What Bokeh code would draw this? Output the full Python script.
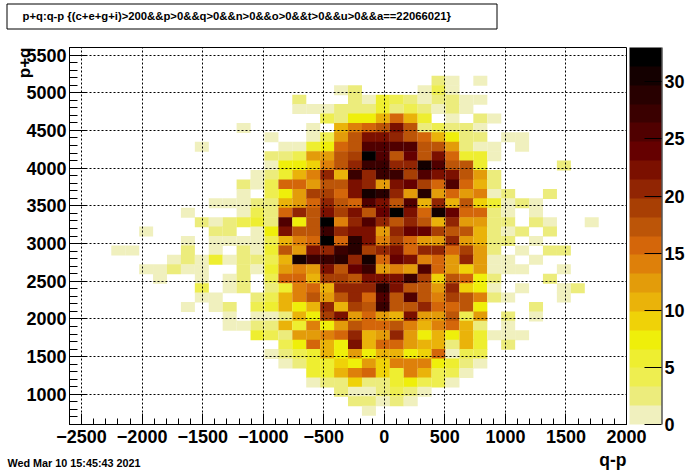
from bokeh.plotting import figure
from bokeh.embed import file_html
from bokeh.resources import INLINE
from bokeh.core.properties import value
from bokeh.models import (ColumnDataSource, LinearColorMapper, ColorBar, FixedTicker,
                          SingleIntervalTicker)
from bokeh.transform import transform

TITLE = "p+q:q-p {(c+e+g+i)>200&&p>0&&q>0&&n>0&&o>0&&t>0&&u>0&&a==22066021}"
DATE = "Wed Mar 10 15:45:43 2021"
X_TITLE = "q-p"
Y_TITLE = "p+q"

X_LOW, X_HIGH, X_BINS = -2600, 2000, 40
Y_LOW, Y_HIGH, Y_BINS = 600, 5600, 40
Z_MAX = 33
Z_TICKS = [0, 5, 10, 15, 20, 25, 30]
X_TICKS = [-2500, -2000, -1500, -1000, -500, 0, 500, 1000, 1500, 2000]
Y_TICKS = [1000, 1500, 2000, 2500, 3000, 3500, 4000, 4500, 5000, 5500]

PALETTE = ["#F0F0BE", "#ECEC7C", "#EEEE50", "#EEEE30", "#EFEF0A", "#EFD208", "#EAB30A",
           "#E39C0A", "#DE800A", "#D4660A", "#BC5508", "#A83F04", "#912503", "#7B1000",
           "#650000", "#500000", "#3A0000", "#280000", "#140000", "#000000"]

# row index counted from the top of the frame -> first x bin, then counts along x
ROWS = {
    3: (26, [2, 1, 0, 1]),
    4: (19, [1, 2, 0, 0, 0, 0, 1, 4, 1]),
    5: (16, [2, 0, 0, 0, 2, 1, 5, 4, 2, 1, 2, 2, 1, 1]),
    6: (16, [1, 1, 1, 2, 2, 2, 5, 2, 4, 2, 1, 2, 1]),
    7: (18, [4, 2, 7, 7, 10, 15, 10, 5, 0, 1, 0, 2, 1]),
    8: (12, [1, 0, 0, 0, 0, 1, 0, 10, 14, 15, 17, 22, 17, 2, 4, 2, 2, 1]),
    9: (14, [1, 0, 0, 1, 4, 12, 17, 22, 22, 20, 17, 15, 10, 7, 2, 2, 0, 1, 1]),
    10: (9, [1, 0, 0, 0, 0, 0, 1, 1, 5, 7, 15, 17, 25, 25, 25, 25, 17, 17, 12, 2, 1, 1, 0, 1]),
    11: (14, [2, 2, 4, 12, 12, 17, 19, 32, 25, 17, 24, 17, 22, 15, 5, 5, 1]),
    12: (14, [1, 7, 7, 9, 14, 17, 20, 27, 27, 20, 20, 30, 25, 17, 17, 5, 0, 0, 0, 0, 0, 2]),
    13: (13, [1, 2, 5, 10, 14, 20, 10, 27, 20, 27, 27, 19, 25, 22, 22, 17, 12, 2]),
    14: (12, [2, 1, 4, 15, 15, 12, 17, 17, 22, 20, 12, 22, 24, 19, 15, 25, 15, 10, 2]),
    15: (12, [1, 0, 4, 7, 12, 19, 19, 15, 22, 30, 29, 20, 12, 29, 12, 15, 12, 14, 1, 2, 0, 0, 2]),
    16: (10, [1, 1, 1, 2, 2, 10, 12, 15, 20, 17, 15, 25, 22, 17, 25, 10, 20, 10, 17, 9, 5, 1, 2, 1]),
    17: (8, [1, 0, 0, 0, 1, 4, 2, 15, 20, 17, 22, 19, 22, 17, 24, 32, 22, 15, 30, 24, 15, 15, 2, 1, 0, 1]),
    18: (9, [2, 1, 2, 4, 5, 2, 25, 7, 17, 32, 14, 20, 25, 20, 17, 20, 17, 10, 20, 12, 12, 2, 2, 0, 2, 1, 0, 0, 1]),
    19: (5, [1, 0, 0, 0, 0, 2, 2, 0, 1, 7, 22, 17, 17, 27, 20, 22, 22, 12, 20, 24, 24, 19, 17, 17, 10, 2, 1, 2, 0, 2]),
    20: (8, [1, 0, 1, 1, 1, 1, 4, 10, 14, 15, 32, 15, 29, 22, 14, 19, 15, 12, 12, 20, 12, 10, 2, 2, 0, 1]),
    21: (3, [1, 1, 0, 0, 0, 2, 0, 1, 0, 2, 1, 5, 17, 12, 22, 20, 27, 29, 19, 20, 22, 15, 20, 20, 15, 19, 12, 2, 0, 1, 0, 2, 2]),
    22: (7, [1, 2, 1, 5, 1, 2, 2, 4, 10, 30, 27, 27, 29, 20, 30, 15, 24, 22, 14, 15, 12, 20, 12, 1, 1, 0, 1]),
    23: (5, [1, 1, 2, 1, 1, 0, 0, 2, 1, 5, 12, 14, 12, 22, 17, 24, 27, 12, 14, 12, 25, 15, 12, 9, 12, 1, 1, 1, 0, 0, 1]),
    24: (6, [1, 0, 0, 1, 0, 1, 2, 0, 4, 15, 15, 10, 19, 19, 17, 22, 22, 22, 27, 19, 9, 17, 15, 7, 2, 0, 0, 0, 2]),
    25: (9, [4, 0, 1, 2, 0, 2, 5, 14, 15, 10, 20, 20, 20, 29, 22, 17, 17, 12, 20, 9, 7, 1, 0, 1, 0, 0, 1, 2]),
    26: (9, [1, 1, 0, 0, 2, 4, 10, 14, 17, 12, 17, 20, 15, 25, 17, 25, 17, 14, 19, 17, 14, 2, 1, 0, 0, 0, 1]),
    27: (8, [1, 0, 1, 2, 0, 4, 5, 10, 7, 10, 20, 10, 19, 17, 27, 17, 17, 20, 15, 15, 17, 7, 0, 0, 0, 2]),
    28: (11, [1, 0, 1, 1, 2, 10, 7, 19, 22, 12, 15, 12, 10, 22, 12, 12, 17, 4, 12, 0, 2, 0, 1]),
    29: (11, [1, 1, 2, 2, 10, 5, 14, 7, 12, 17, 15, 15, 17, 14, 10, 14, 15, 10, 2, 0, 1]),
    30: (13, [5, 4, 2, 12, 12, 14, 15, 20, 10, 12, 20, 12, 7, 10, 7, 10, 5, 1, 1, 1]),
    31: (15, [4, 7, 15, 10, 7, 22, 10, 15, 15, 12, 10, 10, 2, 10, 5, 0, 2]),
    32: (14, [1, 2, 4, 5, 10, 7, 12, 7, 10, 10, 7, 9, 15, 1, 4, 4]),
    33: (15, [1, 2, 5, 5, 9, 7, 12, 9, 14, 14, 14, 7, 5, 2, 1]),
    34: (17, [5, 5, 10, 14, 15, 9, 5, 14, 10, 4, 4, 1]),
    35: (17, [1, 2, 2, 9, 2, 2, 5, 7, 4, 4, 1]),
    36: (19, [2, 1, 1, 2, 4, 2, 1]),
    37: (20, [2, 2, 1, 2, 1]),
    38: (21, [1]),
}

dx = (X_HIGH - X_LOW) / X_BINS
dy = (Y_HIGH - Y_LOW) / Y_BINS
xs, ys, zs = [], [], []
for row, (first, counts) in ROWS.items():
    for k, c in enumerate(counts):
        if c > 0:
            xs.append(X_LOW + dx * (first + k + 0.5))
            ys.append(Y_HIGH - dy * (row + 0.5))
            zs.append(c)
source = ColumnDataSource(dict(x=xs, y=ys, z=zs))

FONT = "Liberation Sans"
mapper = LinearColorMapper(palette=PALETTE, low=0, high=Z_MAX)

FL, FT, FW, FH = 69, 47, 557, 377

p = figure(width=696, height=472, output_backend="svg", toolbar_location=None,
           x_range=(X_LOW, X_HIGH), y_range=(Y_LOW, Y_HIGH),
           min_border_left=FL, min_border_top=FT, min_border_bottom=48, min_border_right=70,
           frame_width=FW, frame_height=FH, background_fill_color="white",
           border_fill_color="white")
p.styles = {"position": "absolute", "left": "0px", "top": "0px"}
p.outline_line_color = "black"
p.outline_line_width = 1

p.rect("x", "y", width=dx, height=dy, source=source, dilate=True,
       fill_color=transform("z", mapper), line_color=None)

for ax, ticks in ((p.xaxis[0], X_TICKS), (p.yaxis[0], Y_TICKS)):
    ax.ticker = SingleIntervalTicker(interval=500, num_minor_ticks=5)
    ax.major_label_overrides = {t: str(t).replace("-", "\u2212") for t in ticks}
    ax.major_label_text_font = FONT
    ax.major_label_text_font_style = "bold"
    ax.major_label_text_font_size = "18px"
    ax.major_label_text_color = "black"
    ax.axis_line_color = "black"
    ax.major_tick_line_color = "black"
    ax.minor_tick_line_color = "black"
    ax.major_tick_out = 0
    ax.minor_tick_out = 0
p.xaxis[0].major_tick_in = 11
p.xaxis[0].minor_tick_in = 6
p.yaxis[0].major_tick_in = 17
p.yaxis[0].minor_tick_in = 8
p.xaxis[0].major_label_standoff = 5
p.yaxis[0].major_label_standoff = 3

for g, ticks in ((p.xgrid[0], X_TICKS), (p.ygrid[0], Y_TICKS)):
    g.ticker = FixedTicker(ticks=ticks)
    g.grid_line_color = "black"
    g.grid_line_dash = "2 2"
    g.grid_line_width = 1
    g.level = "guide"

cb = ColorBar(color_mapper=mapper, width=32, height=FH, padding=0, margin=0,
              location=(3, 0), ticker=FixedTicker(ticks=Z_TICKS),
              major_tick_in=17, major_tick_out=0, major_tick_line_color="black",
              minor_tick_line_color=None, bar_line_color=None, border_line_color=None,
              background_fill_color=None, label_standoff=3,
              major_label_text_font=FONT, major_label_text_font_style="bold",
              major_label_text_font_size="18px", major_label_text_color="black")
p.add_layout(cb, "right")

# Overlay in page pixels for the ROOT title box, stamp and axis titles
ov = figure(width=696, height=472, output_backend="svg", toolbar_location=None,
            x_range=(0, 696), y_range=(472, 0), min_border=0, x_axis_type=None, y_axis_type=None,
            background_fill_color=None, border_fill_color=None, outline_line_color=None)
ov.styles = {"position": "absolute", "left": "0px", "top": "0px"}
ov.grid.visible = False
ov.quad(left=[6.5], right=[496.5], top=[3.5], bottom=[28.5], fill_color="white", line_color="black", line_width=1)
ov.segment(x0=[661.5], x1=[661.5], y0=[FT], y1=[FT + FH], line_color="black", line_width=1)


def put(x, y, text, size, align="left", angle=0.0):
    ov.text(x=[x], y=[y], text=[text], text_font=value(FONT), text_font_style="bold",
            text_font_size=value(size), text_color="black", text_align=align,
            text_baseline="middle", angle=angle)


put(22, 15.5, TITLE, "11.3px")
put(7, 462, DATE, "10.8px")
put(626, 459.5, X_TITLE, "17.5px", align="right")
put(24, 47, Y_TITLE, "17px", align="right", angle=1.5707963)

open("out.html", "w").write(file_html([p, ov], INLINE))
